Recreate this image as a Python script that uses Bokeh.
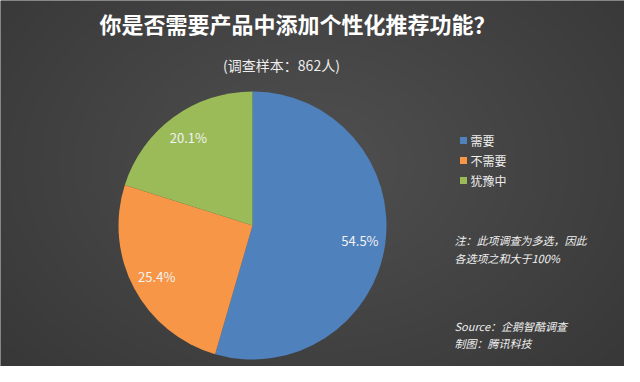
import numpy as np
from bokeh.plotting import figure
from bokeh.models import Range1d
from bokeh.core.properties import value
from bokeh.embed import file_html
from bokeh.resources import INLINE

# ---- data ----
categories = ["需要", "不需要", "犹豫中"]
shares = [54.5, 25.4, 20.1]
colors = ["#4f81bd", "#f79646", "#9bbb59"]
title_text = "你是否需要产品中添加个性化推荐功能？"
subtitle_text = "(调查样本：862人)"
note_lines = ["注：此项调查为多选，因此", "各选项之和大于100%"]
source_lines = ["Source：企鹅智酷调查", "制图：腾讯科技"]

W, H = 624, 366
FONT = "Noto Sans CJK SC"

p = figure(width=W, height=H, output_backend="svg", toolbar_location=None,
           x_range=Range1d(0, W), y_range=Range1d(0, H),
           min_border=0, outline_line_color=None)
p.axis.visible = False
p.grid.visible = False
p.background_fill_color = "#444444"
p.border_fill_color = "#444444"

# background vignette
yy, xx = np.mgrid[0:H, 0:W]
cx, cy = W * 0.5, H * 0.55
d = np.sqrt(((xx - cx) / (W * 0.6)) ** 2 + ((yy - cy) / (H * 0.75)) ** 2)
g = np.clip(80 - 22 * d, 54, 82).astype(np.uint8)
img = np.zeros((H, W), dtype=np.uint32)
view = img.view(dtype=np.uint8).reshape((H, W, 4))
view[:, :, 0] = g
view[:, :, 1] = g
view[:, :, 2] = g
view[:, :, 3] = 255
p.image_rgba(image=[img], x=0, y=0, dw=W, dh=H)

def Y(ref_y):
    return H - (ref_y - 8)

def X(ref_x):
    return ref_x - 8

# pie
pcx, pcy, R = X(260), Y(233), 134
total = sum(shares)
start = np.pi / 2
for cat, s, c in zip(categories, shares, colors):
    sweep = 2 * np.pi * s / total
    end = start - sweep
    p.wedge(x=pcx, y=pcy, radius=R, start_angle=end, end_angle=start,
            fill_color=c, line_color=None)
    mid = (start + end) / 2
    lx = pcx + 0.81 * R * np.cos(mid)
    ly = pcy + 0.81 * R * np.sin(mid)
    p.text(x=[lx], y=[ly], text=[f"{s:.1f}%"], text_color="#f2f2f2",
           text_font=value(FONT), text_font_size="13px",
           text_align="center", text_baseline="middle")
    start = end

# title
p.text(x=[X(305)], y=[Y(30)], text=[title_text], text_color="#ffffff",
       text_font=value(FONT), text_font_size="22px", text_font_style="bold",
       text_align="center", text_baseline="middle")
p.text(x=[X(289)], y=[Y(72)], text=[subtitle_text], text_color="#eeeeee",
       text_font=value(FONT), text_font_size="14px",
       text_align="center", text_baseline="middle")

# legend
leg_y = [148, 168, 188]
for cat, c, ry in zip(categories, colors, leg_y):
    p.rect(x=[X(471)], y=[Y(ry)], width=7, height=7, fill_color=c, line_color=None)
    p.text(x=[X(478)], y=[Y(ry)], text=[cat], text_color="#eeeeee",
           text_font=value(FONT), text_font_size="12px",
           text_align="left", text_baseline="middle")

# notes
for line, ry in zip(note_lines, [247, 265]):
    p.text(x=[X(462)], y=[Y(ry)], text=[line], text_color="#f0f0f0",
           text_font=value(FONT), text_font_size="11px", text_font_style="italic",
           text_align="left", text_baseline="middle")
for line, ry in zip(source_lines, [333, 350]):
    p.text(x=[X(462)], y=[Y(ry)], text=[line], text_color="#f0f0f0",
           text_font=value(FONT), text_font_size="11px", text_font_style="italic",
           text_align="left", text_baseline="middle")

open("out.html", "w").write(file_html(p, INLINE))
